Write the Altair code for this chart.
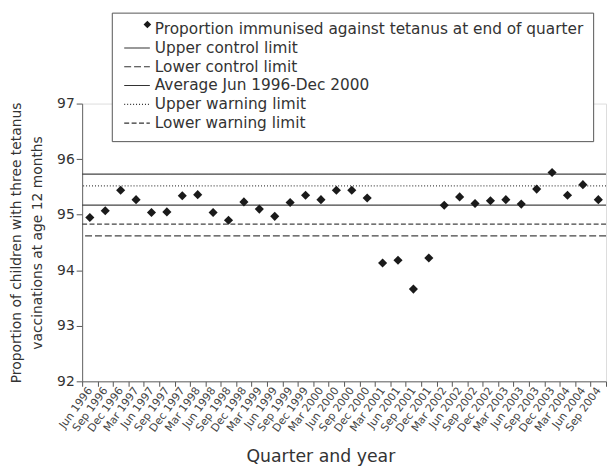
import altair as alt
import pandas as pd

quarters = [
    "Jun 1996", "Sep 1996", "Dec 1996",
    "Mar 1997", "Jun 1997", "Sep 1997", "Dec 1997",
    "Mar 1998", "Jun 1998", "Sep 1998", "Dec 1998",
    "Mar 1999", "Jun 1999", "Sep 1999", "Dec 1999",
    "Mar 2000", "Jun 2000", "Sep 2000", "Dec 2000",
    "Mar 2001", "Jun 2001", "Sep 2001", "Dec 2001",
    "Mar 2002", "Jun 2002", "Sep 2002", "Dec 2002",
    "Mar 2003", "Jun 2003", "Sep 2003", "Dec 2003",
    "Mar 2004", "Jun 2004", "Sep 2004",
]
proportion = [
    94.95, 95.07, 95.44,
    95.27, 95.04, 95.05, 95.34,
    95.36, 95.04, 94.90, 95.23,
    95.10, 94.97, 95.22, 95.35,
    95.27, 95.44, 95.44, 95.30,
    94.13, 94.18, 93.66, 94.22,
    95.17, 95.32, 95.20, 95.25,
    95.27, 95.19, 95.46, 95.76,
    95.35, 95.54, 95.27,
]
series_names = [
    "Proportion immunised against tetanus at end of quarter",
    "Upper control limit",
    "Lower control limit",
    "Average Jun 1996-Dec 2000",
    "Upper warning limit",
    "Lower warning limit",
]
limit_values = [95.73, 94.62, 95.17, 95.52, 94.83]

points_df = pd.DataFrame({"quarter": quarters, "value": proportion, "series": series_names[0]})
limits_df = pd.DataFrame({"series": series_names[1:], "value": limit_values})

FONT = "DejaVu Sans"
LINE = "M-1,0H5.2"
dash_scale = alt.Scale(domain=series_names,
                       range=[[0, 1000], [1, 0], [7, 3], [1, 0], [1, 2], [5, 2.5]])

line_legend = alt.Legend(
    orient="none", legendX=30, legendY=-92, title=None,
    strokeColor="#555", fillColor="white", padding=9,
    labelFont=FONT, labelFontSize=15.5, labelColor="#333", labelOffset=19,
    rowPadding=2, symbolSize=70, symbolType=LINE,
    symbolStrokeColor="#333", symbolStrokeWidth=1.2, labelLimit=600, zindex=1,
)
diamond_legend = alt.Legend(
    orient="none", legendX=61, legendY=-85, title=None, padding=0,
    labelExpr="''", symbolSize=60, symbolType="diamond", symbolFillColor="#1a1a1a",
    symbolStrokeColor="#1a1a1a", symbolStrokeWidth=0, zindex=2,
)

x_enc = alt.X(
    "quarter:N", sort=quarters,
    scale=alt.Scale(paddingInner=0, paddingOuter=0),
    axis=alt.Axis(
        title="Quarter and year", titleFont=FONT, titleFontSize=17.5, titleFontWeight="normal",
        titleColor="#333", titlePadding=14, titleX=241,
        labelFont=FONT, labelFontSize=11, labelColor="#444", labelAngle=-54,
        labelPadding=2, tickBand="extent", tickSize=5, tickColor="#555",
        domainColor="#666", grid=False,
    ),
)
y_scale = alt.Scale(domain=[92, 97], nice=False, zero=False)
y_axis = alt.Axis(
    title=["Proportion of children with three tetanus", "vaccinations at age 12 months"],
    titleFont=FONT, titleFontSize=14, titleFontWeight="normal", titleColor="#333",
    titleLineHeight=22, titlePadding=12,
    labelFont=FONT, labelFontSize=14, labelColor="#333", labelPadding=2,
    values=[92, 93, 94, 95, 96, 97], tickSize=6, tickColor="#555", domainColor="#666", grid=False,
)

rules = alt.Chart(limits_df).mark_rule(color="#444", strokeWidth=1.3).encode(
    y=alt.Y("value:Q", scale=y_scale, axis=y_axis),
    strokeDash=alt.StrokeDash("series:N", scale=dash_scale, legend=line_legend),
)

points = alt.Chart(points_df).mark_point(
    filled=True, size=85, color="#1a1a1a", opacity=1
).encode(
    x=x_enc,
    y=alt.Y("value:Q", scale=y_scale, axis=y_axis),
    shape=alt.Shape("series:N", scale=alt.Scale(domain=[series_names[0]], range=["diamond"]),
                    legend=diamond_legend),
)

chart = alt.layer(rules, points).properties(
    width=530, height=281,
    padding={"left": 1, "top": 1, "right": 0, "bottom": 0},
).configure_view(stroke=None).configure(background="white")

chart.save("out.html", embed_options={"renderer": "svg", "actions": False})
